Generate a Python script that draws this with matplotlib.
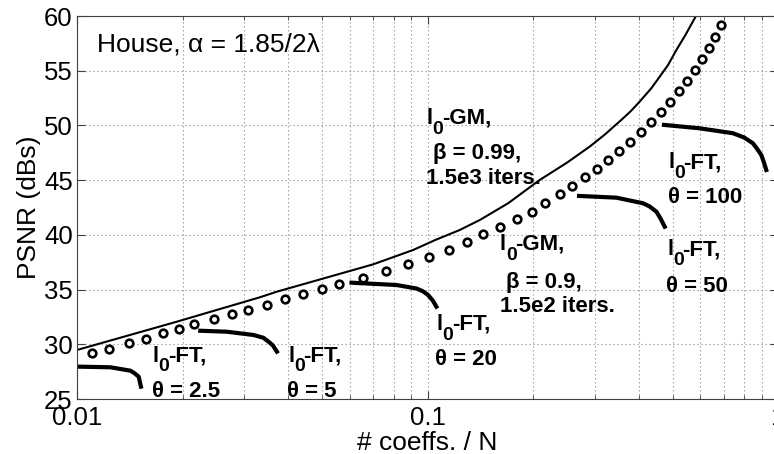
import matplotlib
matplotlib.use("Agg")
import matplotlib.pyplot as plt
from matplotlib.ticker import NullFormatter
from matplotlib.transforms import offset_copy

plt.rcParams['font.family'] = ['Liberation Sans', 'DejaVu Sans']

# l0-GM, beta = 0.99 (solid line)
gm99_x = [0.01, 0.01928, 0.03327, 0.03718, 0.0526, 0.0700, 0.091, 0.105, 0.1236,
          0.141, 0.17, 0.209, 0.25, 0.290, 0.32, 0.357, 0.38, 0.403, 0.435,
          0.4597, 0.485, 0.513, 0.545, 0.582]
gm99_y = [29.48, 32.07, 34.30, 34.81, 36.18, 37.31, 38.62, 39.52, 40.45,
          41.36, 42.9, 45.02, 46.6, 48.06, 49.15, 50.5, 51.3, 52.18, 53.4,
          54.46, 55.5, 56.9, 58.3, 59.95]

# l0-GM, beta = 0.9 (circles)
gm90_x = [0.01104, 0.01236, 0.01409, 0.01574, 0.01755, 0.01958, 0.02160, 0.02453,
          0.02768, 0.03067, 0.03484, 0.03917, 0.04417, 0.05006, 0.05590, 0.06529,
          0.07606, 0.08809, 0.1010, 0.1150, 0.1300, 0.1441, 0.1615, 0.1795, 0.1980,
          0.2170, 0.2384, 0.2584, 0.2808, 0.3046, 0.3273, 0.3511, 0.3775, 0.4064,
          0.4341, 0.4627, 0.4931, 0.5216, 0.5497, 0.5783, 0.6067, 0.6339, 0.6607,
          0.6859]
gm90_y = [29.18, 29.57, 30.09, 30.51, 31.0, 31.43, 31.83, 32.29, 32.77, 33.16,
          33.62, 34.14, 34.57, 35.05, 35.48, 36.03, 36.70, 37.31, 37.95, 38.62,
          39.32, 40.05, 40.75, 41.45, 42.12, 42.89, 43.71, 44.47, 45.26, 46.02,
          46.85, 47.67, 48.46, 49.38, 50.29, 51.21, 52.1, 53.13, 54.1, 55.05,
          56.08, 57.11, 58.12, 59.19]

# l0-FT curves, one per theta
ft25_x = [0.01, 0.01245, 0.01420, 0.0146, 0.0150, 0.0151, 0.01522]
ft25_y = [27.96, 27.9, 27.59, 27.35, 27.04, 26.6, 26.13]
ft5_x = [0.02247, 0.02677, 0.0319, 0.0340, 0.0352, 0.0362, 0.03718]
ft5_y = [31.24, 31.15, 30.85, 30.6, 30.24, 29.9, 29.33]
ft20_x = [0.0607, 0.0815, 0.093, 0.0970, 0.1004, 0.1035, 0.106]
ft20_y = [35.63, 35.42, 35.1, 34.85, 34.5, 34.0, 33.44]
ft50_x = [0.2706, 0.3458, 0.4119, 0.43, 0.4498, 0.462, 0.4750]
ft50_y = [43.56, 43.4, 42.89, 42.6, 42.12, 41.5, 40.75]
ft100_x = [0.4729, 0.5976, 0.7436, 0.80, 0.8480, 0.87, 0.8959, 0.91, 0.9257]
ft100_y = [50.05, 49.74, 49.29, 48.9, 48.37, 47.9, 47.3, 46.7, 45.93]

fig = plt.figure(figsize=(7.74, 4.54), dpi=100)
ax = fig.add_axes([0.0995, 0.1211, 0.9057, 0.8436])

ax.plot(gm99_x, gm99_y, color='black', lw=1.5)
ax.plot(gm90_x, gm90_y, ls='none', marker='o', ms=5.5, mfc='white',
        mec='black', mew=1.9)
for fx, fy in [(ft25_x, ft25_y), (ft5_x, ft5_y), (ft20_x, ft20_y),
               (ft50_x, ft50_y), (ft100_x, ft100_y)]:
    ax.plot(fx, fy, color='black', lw=3)

ax.set_xscale('log')
ax.set_xlim(0.01, 1)
ax.set_ylim(25, 60)
ax.set_xticks([0.01, 0.1, 1])
ax.set_xticklabels(['0.01', '0.1', '1'])
ax.xaxis.set_minor_formatter(NullFormatter())
ax.set_yticks(range(25, 61, 5))
ax.grid(True, which='both', ls=(0, (1.2, 2.4)), color='0.6', lw=0.8)
ax.tick_params(which='both', direction='in', top=True, right=True,
               labelsize=18.5, color='0.25', pad=3)
ax.tick_params(axis='x', which='major', pad=5)
ax.tick_params(which='major', length=6)
ax.tick_params(which='minor', length=3)
for sp in ax.spines.values():
    sp.set_color('0.25')

ax.set_xlabel('# coeffs. / N', fontsize=19, labelpad=1)
ax.set_ylabel('PSNR (dBs)', fontsize=19, labelpad=2)

ax.text(0.01138, 56.75, 'House, α = 1.85/2λ', fontsize=19, va='baseline')

lab = dict(fontsize=16, fontweight='bold', va='baseline', ha='left')


def l0_label(x, y, rest):
    # "l" with a large subscript 0, then the rest of the label
    ax.text(x, y, 'l', **lab)
    ax.text(x, y, '0', transform=offset_copy(ax.transData, fig=fig, x=4.3,
            y=-7.0, units='points'), fontsize=14, fontweight='bold',
            va='baseline', ha='left')
    ax.text(x, y, rest, transform=offset_copy(ax.transData, fig=fig, x=11.0,
            y=0, units='points'), **lab)


l0_label(0.01644, 28.41, '-FT,')
ax.text(0.01633, 25.21, 'θ = 2.5', **lab)
l0_label(0.04003, 28.41, '-FT,')
ax.text(0.03977, 25.21, 'θ = 5', **lab)
l0_label(0.1061, 31.31, '-FT,')
ax.text(0.1049, 28.11, 'θ = 20', **lab)
l0_label(0.1608, 38.62, '-GM,')
ax.text(0.1680, 35.12, 'β = 0.9,', **lab)
ax.text(0.1608, 32.98, '1.5e2 iters.', **lab)
l0_label(0.4823, 38.16, '-FT,')
ax.text(0.4782, 34.81, 'θ = 50', **lab)
l0_label(0.0993, 50.14, '-GM,')
ax.text(0.1037, 46.91, 'β = 0.99,', **lab)
ax.text(0.0993, 44.63, '1.5e3 iters.', **lab)
l0_label(0.4854, 46.09, '-FT,')
ax.text(0.4854, 42.89, 'θ = 100', **lab)

fig.savefig('out.png', dpi=100)
